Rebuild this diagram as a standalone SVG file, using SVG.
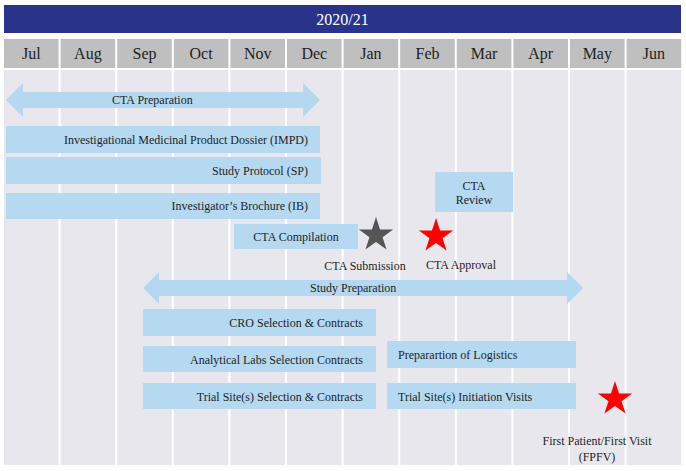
<svg xmlns="http://www.w3.org/2000/svg" xmlns:xlink="http://www.w3.org/1999/xlink" width="686" height="471" viewBox="0 0 686 471">
<style>
  text { font-family: "Liberation Serif", "Times New Roman", serif; fill: #1e1e1e; }
  .title { font-size: 16px; fill: #ffffff; text-anchor: middle; }
  .month { font-size: 16px; text-anchor: middle; }
  .hdr { fill: #BFBFBF; }
  .col { fill: #E8E7ED; }
  .bar { fill: #B5D9F0; }
  .arrow { fill: #B3D8EF; }
  .lbl { font-size: 12px; }
  .end { text-anchor: end; }
  .mid { text-anchor: middle; }
</style>
<defs>
  <polygon id="star" points="0,-18 4.04,-5.56 17.12,-5.56 6.54,2.13 10.58,14.56 0,6.88 -10.58,14.56 -6.54,2.13 -17.12,-5.56 -4.04,-5.56"/>
</defs>
<rect x="0" y="0" width="686" height="471" fill="#ffffff"/>
<g id="timeline">
  <rect x="4" y="5" width="677" height="28" fill="#29338A"/>
  <text class="title" x="342.5" y="25">2020/21</text>
  <g id="columns">
    <rect class="col" x="4" y="70" width="54.6" height="395"/>
    <rect class="col" x="60.6" y="70" width="54.6" height="395"/>
    <rect class="col" x="117.2" y="70" width="54.6" height="395"/>
    <rect class="col" x="173.8" y="70" width="54.6" height="395"/>
    <rect class="col" x="230.4" y="70" width="54.6" height="395"/>
    <rect class="col" x="287" y="70" width="54.6" height="395"/>
    <rect class="col" x="343.6" y="70" width="54.6" height="395"/>
    <rect class="col" x="400.2" y="70" width="54.6" height="395"/>
    <rect class="col" x="456.8" y="70" width="54.6" height="395"/>
    <rect class="col" x="513.4" y="70" width="54.6" height="395"/>
    <rect class="col" x="570" y="70" width="54.6" height="395"/>
    <rect class="col" x="626.6" y="70" width="54.6" height="395"/>
  </g>
  <g id="months">
    <rect class="hdr" x="4" y="39" width="54.6" height="29"/>
    <rect class="hdr" x="60.6" y="39" width="54.6" height="29"/>
    <rect class="hdr" x="117.2" y="39" width="54.6" height="29"/>
    <rect class="hdr" x="173.8" y="39" width="54.6" height="29"/>
    <rect class="hdr" x="230.4" y="39" width="54.6" height="29"/>
    <rect class="hdr" x="287" y="39" width="54.6" height="29"/>
    <rect class="hdr" x="343.6" y="39" width="54.6" height="29"/>
    <rect class="hdr" x="400.2" y="39" width="54.6" height="29"/>
    <rect class="hdr" x="456.8" y="39" width="54.6" height="29"/>
    <rect class="hdr" x="513.4" y="39" width="54.6" height="29"/>
    <rect class="hdr" x="570" y="39" width="54.6" height="29"/>
    <rect class="hdr" x="626.6" y="39" width="54.6" height="29"/>
    <text class="month" x="31.3" y="59">Jul</text>
    <text class="month" x="87.9" y="59">Aug</text>
    <text class="month" x="144.5" y="59">Sep</text>
    <text class="month" x="201.1" y="59">Oct</text>
    <text class="month" x="257.7" y="59">Nov</text>
    <text class="month" x="314.3" y="59">Dec</text>
    <text class="month" x="370.9" y="59">Jan</text>
    <text class="month" x="427.5" y="59">Feb</text>
    <text class="month" x="484.1" y="59">Mar</text>
    <text class="month" x="540.7" y="59">Apr</text>
    <text class="month" x="597.3" y="59">May</text>
    <text class="month" x="653.9" y="59">Jun</text>
  </g>
</g>
<g id="cta-preparation">
  <polygon class="arrow" points="6,100 23,83 23,92 303,92 303,83 320,100 303,117 303,108 23,108 23,117"/>
  <text class="lbl" x="112" y="104">CTA Preparation</text>
</g>
<g id="impd">
  <rect class="bar" x="6" y="126" width="314" height="27"/>
  <text class="lbl end" x="308" y="144">Investigational Medicinal Product Dossier (IMPD)</text>
</g>
<g id="study-protocol">
  <rect class="bar" x="6" y="157" width="315" height="27"/>
  <text class="lbl end" x="308" y="175">Study Protocol (SP)</text>
</g>
<g id="ib">
  <rect class="bar" x="6" y="193" width="314" height="26"/>
  <text class="lbl end" x="308" y="210">Investigator’s Brochure (IB)</text>
</g>
<g id="cta-compilation">
  <rect class="bar" x="234" y="224" width="124" height="25"/>
  <text class="lbl mid" x="296" y="241">CTA Compilation</text>
</g>
<g id="cta-review">
  <rect class="bar" x="435" y="172" width="78" height="40"/>
  <text class="lbl mid" x="474" y="190">CTA</text>
  <text class="lbl mid" x="474" y="204">Review</text>
</g>
<g id="cta-submission">
  <use xlink:href="#star" href="#star" x="376" y="235" fill="#555555"/>
  <text class="lbl mid" x="365" y="270">CTA Submission</text>
</g>
<g id="cta-approval">
  <use xlink:href="#star" href="#star" x="436" y="236" fill="#FF0000"/>
  <text class="lbl mid" x="461" y="269">CTA Approval</text>
</g>
<g id="study-preparation">
  <polygon class="arrow" points="143,288 159,272 159,280 567,280 567,272 583,288 567,304 567,296 159,296 159,304"/>
  <text class="lbl" x="310" y="292">Study Preparation</text>
</g>
<g id="cro">
  <rect class="bar" x="143" y="309" width="233" height="27"/>
  <text class="lbl end" x="363" y="327">CRO Selection &amp; Contracts</text>
</g>
<g id="labs">
  <rect class="bar" x="143" y="346" width="233" height="26"/>
  <text class="lbl end" x="363" y="364">Analytical Labs Selection Contracts</text>
</g>
<g id="site-selection">
  <rect class="bar" x="143" y="383" width="233" height="26"/>
  <text class="lbl end" x="363" y="401">Trial Site(s) Selection &amp; Contracts</text>
</g>
<g id="logistics">
  <rect class="bar" x="387" y="341" width="189" height="27"/>
  <text class="lbl" x="398" y="359">Preparartion of Logistics</text>
</g>
<g id="initiation">
  <rect class="bar" x="387" y="383" width="189" height="26"/>
  <text class="lbl" x="398" y="401">Trial Site(s) Initiation Visits</text>
</g>
<g id="fpfv">
  <use xlink:href="#star" href="#star" x="615" y="399" fill="#FF0000"/>
  <text class="lbl mid" x="597" y="445">First Patient/First Visit</text>
  <text class="lbl mid" x="597" y="461">(FPFV)</text>
</g>
<g id="connectors"></g>
</svg>
